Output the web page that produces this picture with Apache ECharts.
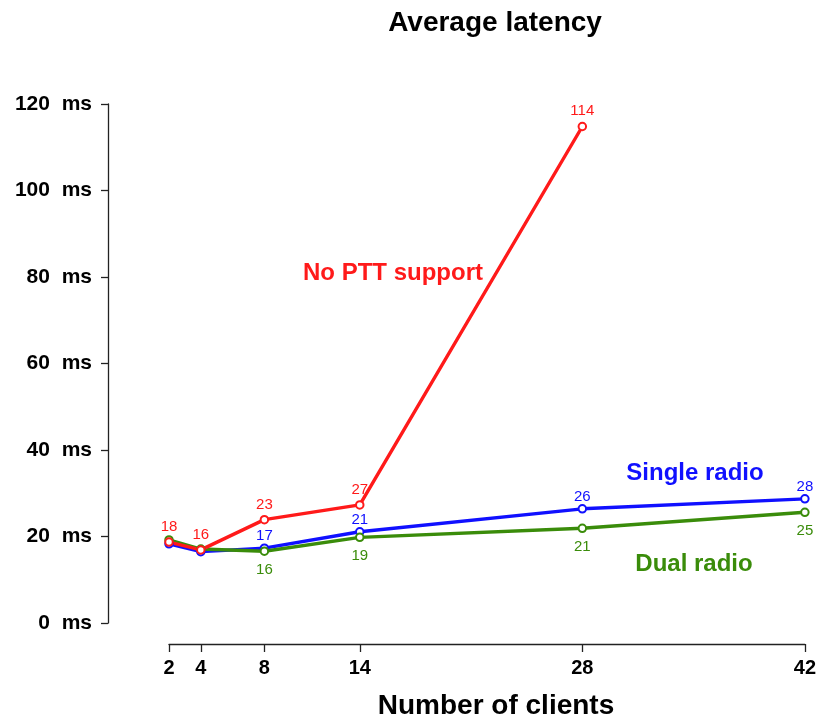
<!DOCTYPE html>
<html>
<head>
<meta charset="utf-8">
<script src="https://cdn.jsdelivr.net/npm/echarts@6/dist/echarts.min.js"></script>
<style>html,body{margin:0;padding:0;background:#fff}#c{width:819px;height:721px}</style>
</head>
<body>
<div id="c"></div>
<script>
const clients = [2, 4, 8, 14, 28, 42];
const yTicks = [0, 20, 40, 60, 80, 100, 120];
const noPtt = [18.7, 16.9, 23.9, 27.3, 114.8];
const single = [18.3, 16.5, 17.3, 21.1, 26.4, 28.7];
const dual = [19.2, 17.1, 16.6, 19.8, 21.9, 25.6];
const labelFrom = { noPtt: 0, single: 2, dual: 2 };

const FONT = "'Liberation Sans', Arial, Helvetica, sans-serif";
const RED = '#ff1a1a', BLUE = '#1010ff', GREEN = '#3a8c0a';

function mk(vals, start) {
  return vals.map((v, i) => ({ value: [clients[i], v], label: { show: i >= start } }));
}
function series(name, vals, color, start, pos, dist) {
  return {
    name, type: 'line', data: mk(vals, start),
    symbol: 'emptyCircle', symbolSize: 7.5,
    lineStyle: { color, width: 3.4 },
    itemStyle: { color, borderColor: color, borderWidth: 3 },
    label: {
      position: pos, distance: dist, color, fontFamily: FONT, fontSize: 15,
      formatter: p => String(Math.floor(p.value[1]))
    },
    emphasis: { disabled: true }, animation: false
  };
}

const chart = echarts.init(document.getElementById('c'));
chart.setOption({
  backgroundColor: '#fff',
  animation: false,
  grid: { left: 169, right: 13, top: 104, bottom: 98 },
  xAxis: {
    type: 'value', min: 2, max: 42, offset: 21,
    splitLine: { show: false },
    axisLine: { onZero: false, lineStyle: { color: '#222', width: 1.3 } },
    axisTick: { customValues: clients, length: 8, lineStyle: { color: '#222', width: 1.3 } },
    axisLabel: { customValues: clients, margin: 14, color: '#000', fontFamily: FONT, fontWeight: 'bold', fontSize: 20 }
  },
  yAxis: {
    type: 'value', min: 0, max: 120, interval: 20, offset: 61,
    splitLine: { show: false },
    axisLine: { show: true, onZero: false, lineStyle: { color: '#222', width: 1.3 } },
    axisTick: { show: true, length: 7, lineStyle: { color: '#222', width: 1.3 } },
    axisLabel: { customValues: yTicks, margin: 16, color: '#000', fontFamily: FONT, fontWeight: 'bold', fontSize: 21,
      formatter: v => v + '  ms' }
  },
  series: [
    series('Single radio', single, BLUE, labelFrom.single, 'top', 0),
    series('Dual radio', dual, GREEN, labelFrom.dual, 'bottom', 6),
    series('No PTT support', noPtt, RED, labelFrom.noPtt, 'top', 3)
  ],
  graphic: [
    { type: 'text', x: 495, y: 23, style: { text: 'Average latency', font: "bold 28px " + FONT, fill: '#000', align: 'center', verticalAlign: 'middle' } },
    { type: 'text', x: 496, y: 706, style: { text: 'Number of clients', font: "bold 28px " + FONT, fill: '#000', align: 'center', verticalAlign: 'middle' } },
    { type: 'text', x: 393, y: 273, style: { text: 'No PTT support', font: "bold 24px " + FONT, fill: RED, align: 'center', verticalAlign: 'middle' } },
    { type: 'text', x: 695, y: 473, style: { text: 'Single radio', font: "bold 24px " + FONT, fill: BLUE, align: 'center', verticalAlign: 'middle' } },
    { type: 'text', x: 694, y: 564, style: { text: 'Dual radio', font: "bold 24px " + FONT, fill: GREEN, align: 'center', verticalAlign: 'middle' } }
  ]
});
</script>
</body>
</html>
